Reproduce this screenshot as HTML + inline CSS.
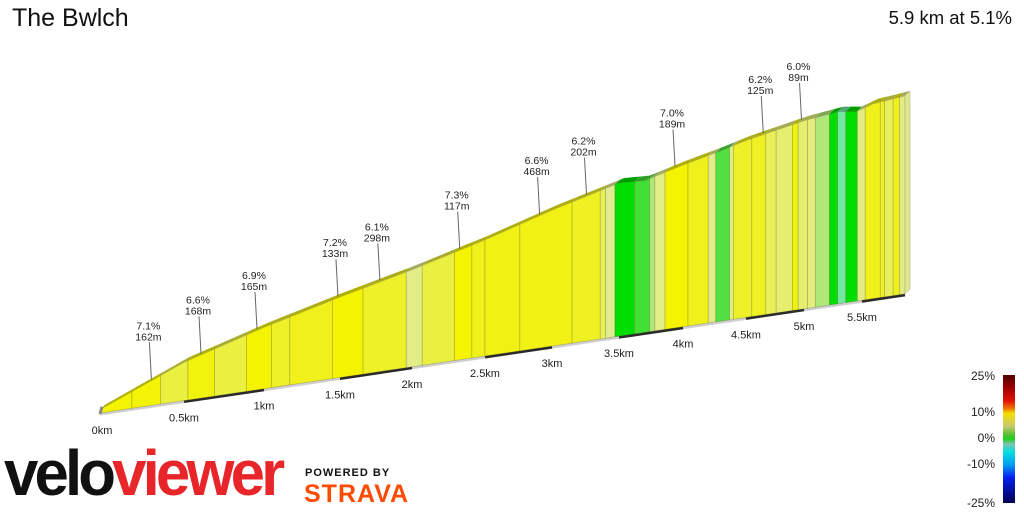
<!DOCTYPE html>
<html><head><meta charset="utf-8">
<style>
body{margin:0;width:1024px;height:512px;background:#fff;overflow:hidden;font-family:"Liberation Sans",sans-serif;position:relative}
.t{position:absolute;white-space:nowrap}
</style></head>
<body>
<div class="t" style="left:12px;top:4px;font-size:25px;color:#111">The Bwlch</div>
<div class="t" style="right:12px;top:7px;font-size:18.5px;color:#111">5.9 km at 5.1%</div>
<svg id="chart" width="1024" height="512" style="position:absolute;left:0;top:0"></svg>
<div class="t" style="left:4px;top:436px;font-size:64px;font-weight:bold;letter-spacing:-4px;transform:scaleX(0.965);transform-origin:left"><span style="color:#111">velo</span><span style="color:#e8262a">viewer</span></div>
<div class="t" style="left:305px;top:467px;font-size:11px;font-weight:bold;color:#111;letter-spacing:1px">POWERED BY</div>
<div class="t" style="left:304px;top:480px;font-size:25px;font-weight:bold;color:#fc4c02;letter-spacing:1px">STRAVA</div>
<script>
const tickKm=[0,0.5,1,1.5,2,2.5,3,3.5,4,4.5,5,5.5,5.9];
const tickX=[100,184,264,340,412,485,552,619,683,746,804,862,905];
const tickLabels=['0km','0.5km','1km','1.5km','2km','2.5km','3km','3.5km','4km','4.5km','5km','5.5km',''];
const profKm=[0,0.5,1,1.5,2,2.5,3,3.5,3.7,4,4.3,4.5,5,5.3,5.45,5.6,5.9];
const profElev=[5,58,93,122,147,176,206,232,230,245,258,268,285,291,287,295,300];
const segKm=[0,0.19,0.36,0.525,0.69,0.89,1.05,1.17,1.45,1.66,1.96,2.07,2.29,2.41,2.5,2.76,3.15,3.36,3.40,3.47,3.62,3.74,3.78,3.86,4.04,4.2,4.26,4.37,4.40,4.55,4.67,4.76,4.9,4.95,5.03,5.1,5.22,5.29,5.36,5.46,5.53,5.67,5.71,5.79,5.85,5.9];
const segGrade=[7.5,7.3,5.5,7,5.5,7.5,6,6.5,7.5,6,3.5,5.5,7.5,6.5,6.8,6.8,6.2,5,3,0,0.8,2,3.5,7.5,6.5,3.5,1,3.5,6,6.2,5,4.5,7,4.5,4,2,0,-1.5,0,3.5,6.5,6,5,6.5,3.5];
const labKm=[0.3,0.6,0.95,1.48,1.77,2.32,2.9,3.25,3.93,4.64,4.97];
const labPct=['7.1%','6.6%','6.9%','7.2%','6.1%','7.3%','6.6%','6.2%','7.0%','6.2%','6.0%'];
const labLen=['162m','168m','165m','133m','298m','117m','468m','202m','189m','125m','89m'];
const gStops=[-25,-15,-5,-1.5,0,1,2,3,4.5,6,7.5,10,15,25];
const gCols=['#000060','#0010f0','#00e0e8','#70e8a0','#00dd00','#50e040','#b0e878','#e0ec90','#e6ee70','#eef028','#f4f400','#f0c000','#e02000','#500000'];

const svg=document.getElementById('chart');const NS='http://www.w3.org/2000/svg';
function mk(t,a,p){const e=document.createElementNS(NS,t);for(const k in a)e.setAttribute(k,a[k]);(p||svg).appendChild(e);return e;}
function interp(xs,ys,v){if(v<=xs[0])return ys[0];for(let i=1;i<xs.length;i++){if(v<=xs[i]){const f=(v-xs[i-1])/(xs[i]-xs[i-1]);return ys[i-1]+f*(ys[i]-ys[i-1]);}}return ys[ys.length-1];}
const xOf=d=>interp(tickKm,tickX,d);
const baseY=x=>413-0.148*(x-100);
const SC=0.66;
const topPt=d=>{const x=xOf(d);return [x,baseY(x)-interp(profKm,profElev,d)*SC];};
function hex2(c){return [1,3,5].map(i=>parseInt(c.substr(i,2),16));}
function gcol(g){g=Math.max(-25,Math.min(25,g));for(let i=1;i<gStops.length;i++){if(g<=gStops[i]){const f=(g-gStops[i-1])/(gStops[i]-gStops[i-1]);const a=hex2(gCols[i-1]),b=hex2(gCols[i]);return a.map((v,j)=>Math.round(v+f*(b[j]-v)));}}return hex2(gCols[gCols.length-1]);}
const rgb=(c,m)=>'rgb('+c.map(v=>Math.round(v*m)).join(',')+')';
function topLine(a,b){const pts=[topPt(a)];profKm.forEach(k=>{if(k>a&&k<b)pts.push(topPt(k));});pts.push(topPt(b));return pts;}

const x0=xOf(0),x1=xOf(5.9);
let bl=mk('line',{x1:x0,y1:baseY(x0)+1,x2:x1,y2:baseY(x1)+1,stroke:'#cfcfcf','stroke-width':3});


for(let k=0.5;k<5.9;k+=1){const a=xOf(k),b=xOf(Math.min(k+0.5,5.9));
 const s=mk('line',{x1:a,y1:baseY(a)+1,x2:b,y2:baseY(b)+1,stroke:'#2a2a2a','stroke-width':3});
 
 }
tickKm.forEach((k,i)=>{if(!tickLabels[i])return;const x=xOf(k);
 const t=mk('text',{x:x+(i==0?2:0),y:baseY(x)+21,'font-size':11,'text-anchor':'middle',fill:'#222','font-family':'Liberation Sans, sans-serif'});t.textContent=tickLabels[i];
 
 });

for(let i=0;i<segGrade.length;i++){const a=segKm[i],b=segKm[i+1];const c=gcol(segGrade[i]);
 const tl=topLine(a,b);const xa=xOf(a),xb=xOf(b);
 const pts=[[xa,baseY(xa)],...tl,[xb,baseY(xb)]];
 const p=mk('polygon',{points:pts.map(p=>p.join(',')).join(' '),fill:rgb(c,1),stroke:'rgba(90,90,40,0.35)','stroke-width':0.7});
 
 
 const rim=[...tl,...tl.slice().reverse().map(q=>[q[0]+5,q[1]-5])];
 const r=mk('polygon',{points:rim.map(p=>p.join(',')).join(' '),fill:rgb(c,0.72)});
 
 }
{const e=topPt(5.9);const xb=xOf(5.9);const f=mk('polygon',{points:[[xb,baseY(xb)],[xb+5,baseY(xb)-5],[e[0]+5,e[1]-5],e].map(p=>p.join(',')).join(' '),fill:'#dfe98a',stroke:'#aaa','stroke-width':0.5});
 
 }
{const s=topPt(0);const c=mk('line',{x1:s[0],y1:baseY(s[0])+1,x2:s[0]+2,y2:s[1]-3,stroke:'#888','stroke-width':3});
 
 }

labKm.forEach((k,i)=>{const p=topPt(k);
 const l=mk('line',{x1:p[0]+1,y1:p[1]-2,x2:p[0]-1,y2:p[1]-39,stroke:'#666','stroke-width':1});
 
 
 const t1=mk('text',{x:p[0]-2,y:p[1]-52,'font-size':10.5,'text-anchor':'middle',fill:'#222','font-family':'Liberation Sans, sans-serif'});t1.textContent=labPct[i];
 
 
 const t2=mk('text',{x:p[0]-2,y:p[1]-41,'font-size':10.5,'text-anchor':'middle',fill:'#222','font-family':'Liberation Sans, sans-serif'});t2.textContent=labLen[i];
 
 });

const legVals=[25,10,0,-10,-25];
const legLabels=['25%','10%','0%','-10%','-25%'];
const defs=mk('defs',{});const lg=mk('linearGradient',{id:'lg',x1:0,y1:0,x2:0,y2:1},defs);
[[25,'#500000'],[20,'#a00000'],[15,'#e01000'],[12,'#f07000'],[10,'#f0e000'],[5,'#c8c870'],[1.5,'#50c030'],[0,'#20d020'],[-2,'#80c0b0'],[-5,'#00e0e0'],[-10,'#00a0f0'],[-15,'#0020f0'],[-25,'#000050']].forEach(s=>mk('stop',{offset:((25-s[0])/50).toFixed(3),'stop-color':s[1]},lg));
const lb=mk('rect',{x:1003,y:375,width:12,height:128,fill:'url(#lg)'});


legVals.forEach((v,i)=>{const t=mk('text',{x:995,y:[380,416,442,468,507][i],'font-size':12,'text-anchor':'end',fill:'#222','font-family':'Liberation Sans, sans-serif'});t.textContent=legLabels[i];
 
 });
</script>
</body></html>
